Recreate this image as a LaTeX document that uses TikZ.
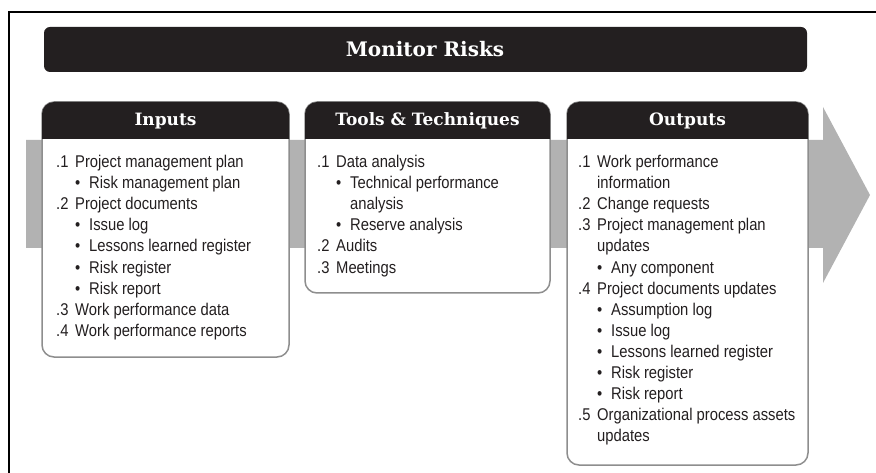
\documentclass[tikz,border=0pt]{standalone}
\usepackage{fontspec}
\setmainfont{Liberation Sans}[FakeStretch=0.87]
\newfontfamily\slabfont{DejaVu Serif}
\usetikzlibrary{positioning}

\definecolor{inkblack}{HTML}{231F20}
\definecolor{arrowgray}{HTML}{B2B2B2}
\definecolor{rimgray}{HTML}{8E8E8E}

% 番号と箇条書き
\newcommand{\itemno}[1]{\makebox[19pt][l]{#1}}
\newcommand{\cont}{\hspace*{19pt}}
\newcommand{\bul}{\hspace*{19pt}\makebox[14pt][l]{\textbullet}}
\newcommand{\bcont}{\hspace*{33pt}}

\tikzset{
  headtext/.style = {text = white, inner sep = 0pt, font = \slabfont\bfseries\fontsize{17}{20}\selectfont},
  bodytext/.style = {anchor = north west, inner sep = 0pt, align = left, text = inkblack,
                     font = \fontsize{17}{21.1}\selectfont},
  rim/.style = {draw = rimgray, line width = 1.5pt, fill = white, rounded corners = 12pt},
  headfill/.style = {fill = inkblack}
}

\begin{document}
\begin{tikzpicture}[x = 1pt, y = -1pt]
  \useasboundingbox (0, 0) rectangle (876, 473);

  % 枠
  \draw [line width = 2pt] (9, 473) -- (9, 12) -- (876, 12);

  % 矢印
  \fill [arrowgray] (26, 140) -- (823, 140) -- (823, 107) -- (870, 195)
    -- (823, 283) -- (823, 248) -- (26, 248) -- cycle;

  % タイトル
  \fill [inkblack, rounded corners = 6pt] (44, 27) rectangle (807, 72);
  \node [headtext, font = \slabfont\bfseries\fontsize{20}{24}\selectfont] (title) at (425, 49.5) {Monitor Risks};

  % Inputs
  \draw [rim] (42, 102) rectangle (289, 357);
  \fill [headfill] (42, 139) {[rounded corners = 12pt] -- (42, 102) -- (289, 102)} -- (289, 139) -- cycle;
  \node [headtext] (inputs) at (165.5, 121) {Inputs};
  \node [bodytext] (inlist) at (56, 155) {%
    \itemno{.1}Project management plan\\
    \bul Risk management plan\\
    \itemno{.2}Project documents\\
    \bul Issue log\\
    \bul Lessons learned register\\
    \bul Risk register\\
    \bul Risk report\\
    \itemno{.3}Work performance data\\
    \itemno{.4}Work performance reports};

  % Tools & Techniques
  \draw [rim] (305, 102) rectangle (550, 293);
  \fill [headfill] (305, 139) {[rounded corners = 12pt] -- (305, 102) -- (550, 102)} -- (550, 139) -- cycle;
  \node [headtext] (tools) at (427.5, 121) {Tools \& Techniques};
  \node [bodytext] (toollist) at (317, 155) {%
    \itemno{.1}Data analysis\\
    \bul Technical performance\\
    \bcont analysis\\
    \bul Reserve analysis\\
    \itemno{.2}Audits\\
    \itemno{.3}Meetings};

  % Outputs
  \draw [rim] (567, 102) rectangle (808, 465);
  \fill [headfill] (567, 139) {[rounded corners = 12pt] -- (567, 102) -- (808, 102)} -- (808, 139) -- cycle;
  \node [headtext] (outputs) at (687.5, 121) {Outputs};
  \node [bodytext] (outlist) at (578, 155) {%
    \itemno{.1}Work performance\\
    \cont information\\
    \itemno{.2}Change requests\\
    \itemno{.3}Project management plan\\
    \cont updates\\
    \bul Any component\\
    \itemno{.4}Project documents updates\\
    \bul Assumption log\\
    \bul Issue log\\
    \bul Lessons learned register\\
    \bul Risk register\\
    \bul Risk report\\
    \itemno{.5}Organizational process assets\\
    \cont updates};
\end{tikzpicture}
\end{document}
